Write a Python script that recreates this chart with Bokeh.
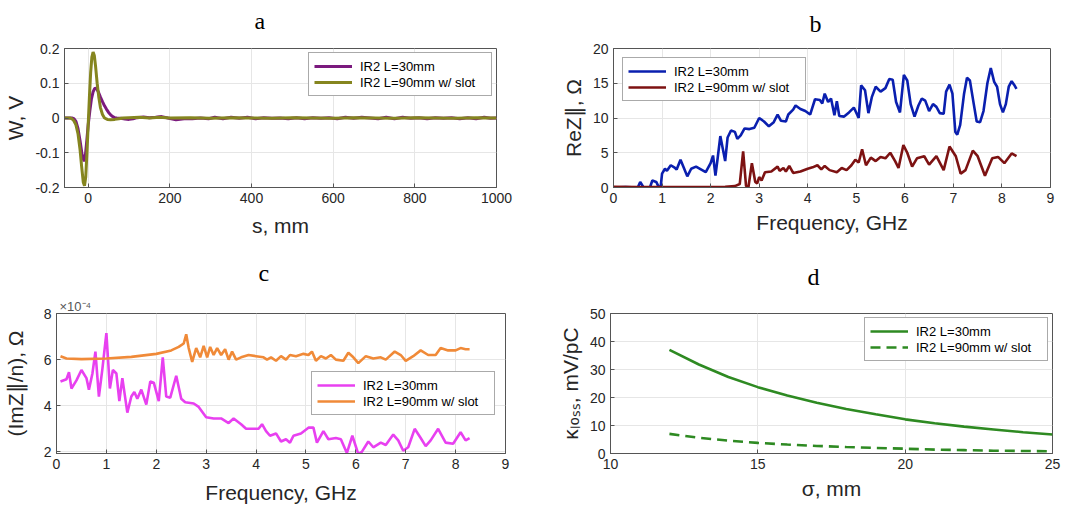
from bokeh.plotting import figure
from bokeh.layouts import column, row
from bokeh.models import Range1d, FixedTicker, Title
from bokeh.embed import file_html
from bokeh.resources import INLINE

SANS = "Liberation Sans"
SERIF = "Liberation Serif"

# ---------------- Panel a: wake potential ----------------
a_s_30 = [-58, -40, -35, -30, -25, -20, -15, -10, -7, -3, 0, 4, 8, 12, 16, 20, 25, 30, 35, 40, 45, 50,
          55, 60, 65, 70, 80, 90, 100, 110, 120, 135, 150, 165, 180, 195, 215, 235, 255, 275, 295, 310,
          330, 350, 370, 390, 410, 430, 450, 470, 490, 510, 530, 550, 570, 590, 610, 630, 650, 670, 690,
          710, 730, 750, 770, 790, 810, 830, 850, 870, 890, 910, 930, 950, 970, 985, 1000]
a_w_30 = [0.0, 0.0, -0.002, -0.01, -0.03, -0.065, -0.105, -0.125, -0.11, -0.06, -0.02, 0.02, 0.055, 0.075,
          0.085, 0.086, 0.075, 0.06, 0.047, 0.035, 0.025, 0.016, 0.009, 0.004, 0.001, 0.0, -0.001, -0.003,
          -0.004, -0.002, 0.001, 0.003, 0.001, 0.002, 0.004, 0.0, -0.005, -0.002, -0.002, 0.0, -0.002, 0.002,
          -0.002, 0.002, -0.001, 0.002, -0.002, 0.001, -0.001, 0.0, -0.002, 0.001, -0.002, 0.001, -0.001,
          0.001, -0.002, 0.002, -0.001, 0.002, 0.0, -0.002, 0.002, -0.002, 0.002, -0.001, 0.001, -0.002,
          0.001, -0.001, 0.001, -0.002, 0.001, -0.002, 0.002, -0.001, 0.0]
a_s_90 = [-58, -45, -40, -35, -30, -25, -20, -16, -12, -9, -6, -3, 0, 3, 6, 9, 12, 15, 18, 22, 26, 30,
          35, 40, 47, 55, 65, 75, 85, 100, 125, 150, 175, 200, 250, 300, 350, 400, 450, 500, 550, 600,
          650, 700, 750, 800, 850, 900, 950, 1000]
a_w_90 = [0.0, 0.0, -0.002, -0.008, -0.02, -0.045, -0.09, -0.14, -0.185, -0.195, -0.17, -0.1, -0.02,
          0.06, 0.13, 0.175, 0.19, 0.18, 0.15, 0.1, 0.06, 0.03, 0.01, 0.0, -0.004, -0.005, -0.004, -0.002,
          0.0, 0.001, 0.002, 0.0, 0.002, 0.0, 0.001, -0.001, 0.001, 0.0, -0.001, 0.001, 0.0, -0.001, 0.001,
          0.0, -0.001, 0.001, 0.0, -0.001, 0.001, 0.0]
a_xticks = [0, 200, 400, 600, 800, 1000]
a_yticks = [-0.2, -0.1, 0, 0.1, 0.2]
a_ylabels = ["-0.2", "-0.1", "0", "0.1", "0.2"]

# ---------------- Panel b: Re Z ----------------
b_f_30 = [0.0, 0.25, 0.5, 0.55, 0.62, 0.75, 0.8, 0.88, 0.93, 0.97, 1.0, 1.06, 1.1, 1.18, 1.25, 1.3, 1.38,
          1.45, 1.52, 1.6, 1.7, 1.8, 1.9, 2.0, 2.05, 2.1, 2.15, 2.2, 2.25, 2.3, 2.35, 2.42, 2.5, 2.55, 2.62,
          2.7, 2.8, 2.9, 3.0, 3.1, 3.2, 3.3, 3.38, 3.45, 3.55, 3.6, 3.7, 3.75, 3.85, 3.95, 4.05, 4.15, 4.25,
          4.3, 4.35, 4.42, 4.48, 4.55, 4.6, 4.65, 4.75, 4.85, 4.95, 5.05, 5.1, 5.18, 5.25, 5.32, 5.4, 5.5,
          5.6, 5.68, 5.75, 5.82, 5.9, 5.98, 6.05, 6.12, 6.2, 6.28, 6.35, 6.42, 6.5, 6.58, 6.65, 6.72, 6.8,
          6.85, 6.92, 6.98, 7.04, 7.08, 7.14, 7.22, 7.28, 7.34, 7.42, 7.48, 7.55, 7.62, 7.7, 7.77, 7.84,
          7.9, 7.96, 8.02, 8.08, 8.14, 8.2, 8.25, 8.3]
b_z_30 = [0.0, 0.05, 0.0, 0.8, 0.0, 0.0, 1.0, 0.8, 0.1, 0.0, 2.0, 2.7, 2.4, 3.2, 2.9, 2.6, 4.0, 2.8, 1.6,
          2.7, 3.0, 2.6, 2.2, 3.5, 4.6, 1.7, 4.5, 7.4, 5.6, 3.8, 7.2, 8.2, 8.0, 7.0, 7.5, 8.5, 8.4, 8.6,
          10.0, 9.5, 8.8, 9.4, 10.5, 9.6, 9.5, 10.5, 11.2, 11.8, 11.3, 11.0, 10.5, 12.7, 12.6, 12.1, 13.5,
          12.3, 12.8, 10.4, 12.4, 10.3, 10.2, 10.8, 11.5, 10.0, 14.7, 14.0, 10.7, 13.0, 14.5, 13.8, 14.3,
          15.6, 15.5, 12.3, 10.8, 16.2, 15.4, 12.0, 10.2, 11.8, 12.8, 12.5, 11.0, 12.0, 11.6, 10.7, 10.6,
          13.8, 14.8, 13.5, 8.0, 7.6, 9.0, 13.5, 15.8, 15.4, 12.0, 9.5, 9.4, 11.0, 15.0, 17.2, 15.2, 14.5,
          12.0, 10.8, 12.0, 14.5, 15.3, 14.8, 14.2]
b_f_90 = [0.0, 0.5, 1.0, 1.5, 2.0, 2.3, 2.5, 2.6, 2.67, 2.73, 2.78, 2.85, 2.92, 2.96, 3.0, 3.05, 3.12,
          3.25, 3.38, 3.42, 3.5, 3.55, 3.62, 3.7, 3.85, 4.0, 4.1, 4.2, 4.28, 4.35, 4.45, 4.6, 4.7, 4.8,
          4.9, 4.98, 5.05, 5.12, 5.2, 5.3, 5.4, 5.5, 5.6, 5.7, 5.8, 5.87, 5.97, 6.05, 6.15, 6.25, 6.4,
          6.5, 6.65, 6.8, 6.92, 7.05, 7.15, 7.25, 7.4, 7.5, 7.65, 7.8, 7.92, 8.05, 8.2, 8.3]
b_z_90 = [0.1, 0.05, 0.05, 0.05, 0.05, 0.1, 0.2, 0.5, 5.2, 0.2, 0.1, 3.5, 0.8, 0.6, 1.5, 1.0, 2.2, 2.3,
          3.0, 2.4, 2.8, 2.3, 3.1, 2.1, 2.3, 2.7, 2.9, 3.2, 2.6, 3.1, 2.5, 2.2, 2.8, 2.5, 3.2, 4.0, 3.6,
          5.5, 3.2, 4.3, 3.8, 4.4, 4.2, 5.0, 3.8, 2.8, 6.1, 5.0, 3.0, 4.2, 4.5, 3.3, 4.5, 2.5, 5.9, 4.5,
          2.0, 2.5, 5.3, 4.5, 1.7, 4.2, 4.4, 3.5, 4.9, 4.5]
b_xticks = [0, 1, 2, 3, 4, 5, 6, 7, 8, 9]
b_yticks = [0, 5, 10, 15, 20]

# ---------------- Panel c: Im Z / n  (units of 1e-4 Ohm) ----------------
c_f_30 = [0.08, 0.2, 0.25, 0.3, 0.4, 0.5, 0.6, 0.65, 0.72, 0.78, 0.85, 0.92, 1.0, 1.07, 1.13, 1.2, 1.26,
          1.32, 1.42, 1.5, 1.56, 1.62, 1.7, 1.8, 1.88, 1.95, 2.05, 2.13, 2.2, 2.28, 2.4, 2.5, 2.58, 2.75,
          2.85, 3.0, 3.15, 3.3, 3.45, 3.55, 3.7, 3.8, 3.9, 4.05, 4.12, 4.2, 4.28, 4.4, 4.5, 4.6, 4.68, 4.75,
          4.9, 5.05, 5.15, 5.22, 5.35, 5.45, 5.6, 5.7, 5.82, 5.93, 6.05, 6.12, 6.25, 6.35, 6.5, 6.6, 6.75,
          6.85, 6.95, 7.05, 7.18, 7.3, 7.4, 7.5, 7.65, 7.8, 7.95, 8.1, 8.2, 8.28]
c_z_30 = [5.05, 5.15, 5.45, 4.75, 5.1, 5.55, 5.2, 4.7, 5.4, 6.35, 4.4, 5.6, 7.15, 4.75, 5.55, 5.4, 4.2,
          5.2, 3.7, 4.4, 4.6, 4.3, 4.7, 4.05, 5.05, 5.0, 4.2, 6.1, 4.4, 4.35, 5.3, 4.3, 4.15, 4.1, 3.95,
          3.5, 3.45, 3.45, 3.25, 3.45, 3.2, 3.0, 3.0, 3.0, 3.2, 2.9, 2.7, 2.8, 2.45, 2.55, 2.4, 2.7, 2.8,
          3.05, 3.05, 2.4, 2.9, 2.55, 2.6, 2.55, 1.95, 2.7, 1.9, 2.0, 2.45, 2.2, 2.4, 2.3, 2.75, 2.5, 2.05,
          2.2, 3.0, 2.6, 2.25, 2.5, 3.0, 2.4, 2.35, 2.85, 2.5, 2.6]
c_f_90 = [0.08, 0.2, 0.5, 1.0, 1.5, 2.0, 2.3, 2.45, 2.55, 2.6, 2.65, 2.72, 2.8, 2.88, 2.95, 3.02, 3.08,
          3.15, 3.22, 3.3, 3.38, 3.45, 3.52, 3.6, 3.7, 3.85, 4.0, 4.15, 4.22, 4.3, 4.4, 4.5, 4.6, 4.68, 4.8,
          4.95, 5.05, 5.12, 5.2, 5.3, 5.4, 5.5, 5.6, 5.75, 5.85, 5.95, 6.05, 6.2, 6.35, 6.5, 6.6, 6.78, 6.9,
          7.0, 7.15, 7.3, 7.45, 7.6, 7.7, 7.85, 8.0, 8.1, 8.2, 8.28]
c_z_90 = [6.15, 6.05, 6.02, 6.05, 6.12, 6.25, 6.4, 6.55, 6.7, 7.1, 6.5, 5.9, 6.5, 6.1, 6.6, 6.1, 6.55,
          6.2, 6.5, 6.2, 6.45, 6.0, 6.35, 6.0, 6.1, 6.2, 6.15, 6.1, 6.0, 6.1, 5.95, 6.15, 6.0, 6.2, 6.15,
          6.25, 6.2, 6.35, 5.95, 6.15, 6.05, 6.2, 6.0, 5.95, 6.3, 6.1, 5.85, 6.15, 6.05, 6.1, 6.0, 6.35,
          6.2, 5.95, 6.15, 6.4, 6.2, 6.2, 6.5, 6.4, 6.4, 6.5, 6.45, 6.45]
c_xticks = [0, 1, 2, 3, 4, 5, 6, 7, 8, 9]
c_yticks = [2, 4, 6, 8]

# ---------------- Panel d: loss factor ----------------
d_sigma = [12, 13, 14, 15, 16, 17, 18, 19, 20, 21, 22, 23, 24, 25]
d_k_30 = [37.0, 31.8, 27.3, 23.7, 20.7, 18.1, 15.9, 14.0, 12.2, 10.8, 9.6, 8.6, 7.6, 6.8]
d_k_90 = [7.0, 5.6, 4.6, 3.8, 3.2, 2.7, 2.3, 2.0, 1.7, 1.4, 1.2, 1.0, 0.9, 0.8]
d_xticks = [10, 15, 20, 25]
d_yticks = [0, 10, 20, 30, 40, 50]

LAB_30 = "IR2 L=30mm"
LAB_90 = "IR2 L=90mm w/ slot"


def spacer(gap):
    # an empty, tiny title that only reserves vertical room between frame and title
    return Title(text=" ", text_font_size="1px", standoff=gap)


def stack_above(p, items):
    # items are listed from the frame outwards
    for it in items:
        p.add_layout(it, "above")
    ids = {id(it) for it in items}
    p.above = list(items) + [x for x in p.above if id(x) not in ids]


def make(width, height, xr, yr, borders, title, t_offset, xticks, yticks):
    left, right, top, bottom = borders
    p = figure(width=width, height=height, x_range=Range1d(*xr), y_range=Range1d(*yr),
               output_backend="svg", toolbar_location=None, title=title,
               min_border_left=left, min_border_right=right,
               min_border_top=top, min_border_bottom=bottom)
    p.title.text_font = SERIF
    p.title.text_font_size = "24px"
    p.title.text_font_style = "normal"
    p.title.text_color = "#000000"
    p.title.align = "left"
    p.title.vertical_align = "bottom"
    p.title.standoff = 0
    p.title.offset = t_offset
    p.outline_line_color = "#555555"
    p.outline_line_width = 1
    p.background_fill_color = "white"
    p.border_fill_color = "white"
    p.xaxis.ticker = FixedTicker(ticks=xticks)
    p.yaxis.ticker = FixedTicker(ticks=yticks)
    for ax in (p.xaxis[0], p.yaxis[0]):
        ax.axis_line_color = "#555555"
        ax.major_tick_line_color = "#555555"
        ax.major_tick_in = 4
        ax.major_tick_out = 0
        ax.minor_tick_line_color = None
        ax.major_label_text_font = SANS
        ax.major_label_text_font_size = "14px"
        ax.major_label_text_color = "#262626"
        ax.axis_label_text_font = SANS
        ax.axis_label_text_font_size = "21px"
        ax.axis_label_text_font_style = "normal"
        ax.axis_label_text_color = "#262626"
    p.grid.grid_line_color = "#e6e6e6"
    p.grid.grid_line_width = 1
    return p


def style_legend(p, location, margin):
    lg = p.legend[0]
    lg.location = location
    lg.margin = margin
    lg.padding = 5
    lg.spacing = 0
    lg.glyph_width = 38
    lg.glyph_height = 16
    lg.label_height = 16
    lg.label_width = 126
    lg.label_standoff = 8
    lg.label_text_font = SANS
    lg.label_text_font_size = "13px"
    lg.label_text_color = "#000000"
    lg.border_line_color = "#555555"
    lg.border_line_width = 1
    lg.background_fill_color = "white"
    lg.background_fill_alpha = 1.0


# panel a
pa = make(540, 256, (-58, 1000), (-0.2, 0.2), (64, 44, 48, 68), "a", 190, a_xticks, a_yticks)
stack_above(pa, [spacer(12)])
pa.xaxis.axis_label = "s, mm"
pa.xaxis.axis_label_standoff = 8
pa.yaxis.axis_label = "W, V"
pa.yaxis.major_label_overrides = {t: l for t, l in zip(a_yticks, a_ylabels)}
pa.line(a_s_30, a_w_30, line_color="#7B1A7E", line_width=3, legend_label=LAB_30)
pa.line(a_s_90, a_w_90, line_color="#85851F", line_width=3, legend_label=LAB_90)
style_legend(pa, "top_right", 4)

# panel b
pb = make(540, 256, (0, 9), (0, 20), (73, 30, 45, 69), "b", 196, b_xticks, b_yticks)
stack_above(pb, [spacer(9)])
pb.xaxis.axis_label = "Frequency, GHz"
pb.yaxis.axis_label = "ReZ\u2225, \u03a9"
pb.line(b_f_30, b_z_30, line_color="#0A1FAF", line_width=2.6, legend_label=LAB_30)
pb.line(b_f_90, b_z_90, line_color="#7D1212", line_width=2.6, legend_label=LAB_90)
style_legend(pb, "top_left", 9)

# panel c
pc = make(540, 255, (0, 9), (1.93, 8), (55, 35, 57, 58), "c", 202, c_xticks, c_yticks)
exp_c = Title(text="\u00d710\u207b\u2074", align="left", offset=3, standoff=0,
              text_font=SANS, text_font_size="13px", text_font_style="normal",
              text_color="#555555")
stack_above(pc, [exp_c, spacer(8)])
pc.xaxis.axis_label = "Frequency, GHz"
pc.xaxis.axis_label_standoff = 9
pc.yaxis.axis_label = "(ImZ\u2225/n), \u03a9"
pc.yaxis.axis_label_standoff = 14
pc.line(c_f_30, c_z_30, line_color="#E840F0", line_width=2.6, legend_label=LAB_30)
pc.line(c_f_90, c_z_90, line_color="#F08A38", line_width=2.6, legend_label=LAB_90)
style_legend(pc, (255, 38), 0)

# panel d
pd_ = make(540, 255, (10, 25), (0, 50), (70, 28, 54, 56), "d", 197, d_xticks, d_yticks)
stack_above(pd_, [spacer(21)])
pd_.xaxis.axis_label = "\u03c3, mm"
pd_.yaxis.axis_label = "\u03ba\u2097\u2092\u209b\u209b, mV/pC"
pd_.line(d_sigma, d_k_30, line_color="#2E8A22", line_width=2.6, legend_label=LAB_30)
pd_.line(d_sigma, d_k_90, line_color="#2E8A22", line_width=2.6, line_dash="10 6", legend_label=LAB_90)
style_legend(pd_, "top_right", 4)

layout = column(row(pa, pb), row(pc, pd_))

open("out.html", "w").write(file_html(layout, INLINE))
